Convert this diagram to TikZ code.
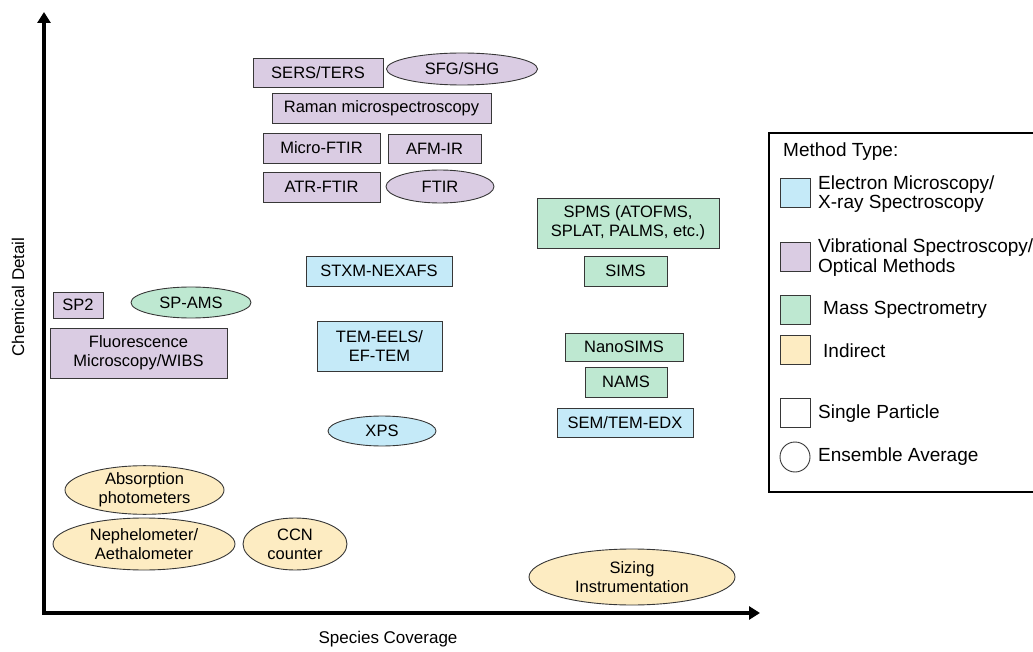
\documentclass[tikz,border=0pt]{standalone}
\usepackage{fontspec}
\setmainfont{Liberation Sans}
\usepackage{tikz}
\usetikzlibrary{shapes.geometric,arrows.meta}

\definecolor{emblue}{RGB}{197,234,248}
\definecolor{vibpurple}{RGB}{218,204,227}
\definecolor{massgreen}{RGB}{190,232,209}
\definecolor{indyellow}{RGB}{253,236,194}
\definecolor{edgegray}{RGB}{55,55,55}

\tikzset{
  method/.style={draw=edgegray, line width=0.9pt, inner sep=0pt, align=center,
    font=\fontsize{16.5}{19}\selectfont},
  single/.style={method, rectangle},
  ensemble/.style={method, ellipse},
  keybox/.style={draw=edgegray, line width=0.9pt, minimum width=30, minimum height=29, inner sep=0pt},
  keytext/.style={anchor=west, inner sep=0pt, align=left, font=\fontsize{19}{19.5}\selectfont},
  axislabel/.style={inner sep=0pt, font=\fontsize{17}{20}\selectfont}
}

\begin{document}
\begin{tikzpicture}[x=1pt,y=1pt,yscale=-1,xscale=1]
%set diagram size to 1033 x 652
\useasboundingbox (0,0) rectangle (1033,652);
\clip (0,0) rectangle (1033,652);

%Straight Lines: axes
\coordinate (ytip) at (44,12);
\coordinate (origin) at (44,613);
\coordinate (xtip) at (760,613);
\draw [line width=3.5pt, line join=miter, {Triangle[length=11pt,width=13pt]}-{Triangle[length=11pt,width=13pt]}] (ytip) -- (origin) -- (xtip);

% Text Node: axis labels
\node [axislabel, rotate=90] (detaillabel) at (18,297) {Chemical Detail};
\node [axislabel] (coveragelabel) at (388,639) {Species Coverage};

%Shape: vibrational spectroscopy / optical methods
\node [single, fill=vibpurple, minimum width=130, minimum height=29] (sersters) at (318,72.5) {SERS/TERS};
\node [ensemble, fill=vibpurple, minimum width=151, minimum height=32] (sfgshg) at (462,69) {SFG/SHG};
\node [single, fill=vibpurple, minimum width=219, minimum height=30] (raman) at (381.5,108) {Raman microspectroscopy};
\node [single, fill=vibpurple, minimum width=117, minimum height=30] (microftir) at (321.5,148) {Micro-FTIR};
\node [single, fill=vibpurple, minimum width=93, minimum height=29] (afmir) at (434.5,148.5) {AFM-IR};
\node [single, fill=vibpurple, minimum width=117, minimum height=30] (atrftir) at (321.5,187) {ATR-FTIR};
\node [ensemble, fill=vibpurple, minimum width=108, minimum height=33] (ftir) at (440,186.5) {FTIR};
\node [single, fill=vibpurple, minimum width=50, minimum height=26] (sptwo) at (78,305) {SP2};
\node [single, fill=vibpurple, minimum width=177, minimum height=50] (fluor) at (138.5,353) {Fluorescence\\Microscopy/WIBS};

%Shape: mass spectrometry
\node [ensemble, fill=massgreen, minimum width=120, minimum height=31] (spams) at (191,302.5) {SP-AMS};
\node [single, fill=massgreen, minimum width=182, minimum height=50] (spms) at (628,223) {SPMS (ATOFMS,\\SPLAT, PALMS, etc.)};
\node [single, fill=massgreen, minimum width=83, minimum height=30] (sims) at (625.5,271) {SIMS};
\node [single, fill=massgreen, minimum width=118, minimum height=28] (nanosims) at (624,347) {NanoSIMS};
\node [single, fill=massgreen, minimum width=82, minimum height=30] (nams) at (626,382) {NAMS};

%Shape: electron microscopy / x-ray spectroscopy
\node [single, fill=emblue, minimum width=146, minimum height=30] (stxm) at (379,271) {STXM-NEXAFS};
\node [single, fill=emblue, minimum width=125, minimum height=50] (temeels) at (379.5,346) {TEM-EELS/\\EF-TEM};
\node [ensemble, fill=emblue, minimum width=108, minimum height=30] (xps) at (382,431) {XPS};
\node [single, fill=emblue, minimum width=136, minimum height=29] (semedx) at (625,422.5) {SEM/TEM-EDX};

%Shape: indirect
\node [ensemble, fill=indyellow, minimum width=159, minimum height=46] (absorption) at (144.5,490) {Absorption\\photometers};
\node [ensemble, fill=indyellow, minimum width=182, minimum height=52] (nephelo) at (144,544) {Nephelometer/\\Aethalometer};
\node [ensemble, fill=indyellow, minimum width=104, minimum height=52] (ccn) at (295,544) {CCN\\counter};
\node [ensemble, fill=indyellow, minimum width=206, minimum height=56] (sizing) at (632,577) {Sizing\\Instrumentation};

%Shape: legend
\draw [line width=2pt] (769,133) rectangle (1045,492);
\node [keytext] (methodtype) at (783,152) {Method Type:};
\node [keybox, fill=emblue] (emkey) at (795,192.5) {};
\node [keytext] (emtext) at (818,194) {Electron Microscopy/\\X-ray Spectroscopy};
\node [keybox, fill=vibpurple] (vibkey) at (795,257) {};
\node [keytext] (vibtext) at (818,257.5) {Vibrational Spectroscopy/\\Optical Methods};
\node [keybox, fill=massgreen] (masskey) at (795,309.5) {};
\node [keytext] (masstext) at (823,310) {Mass Spectrometry};
\node [keybox, fill=indyellow] (indkey) at (795,350) {};
\node [keytext] (indtext) at (823,351) {Indirect};
\node [keybox, fill=white] (singlekey) at (795,412.5) {};
\node [keytext] (singletext) at (818,414) {Single Particle};
\node [draw=edgegray, line width=0.9pt, circle, minimum size=30, inner sep=0pt] (ensemblekey) at (795,457) {};
\node [keytext] (ensembletext) at (818,457) {Ensemble Average};
\end{tikzpicture}
\end{document}
